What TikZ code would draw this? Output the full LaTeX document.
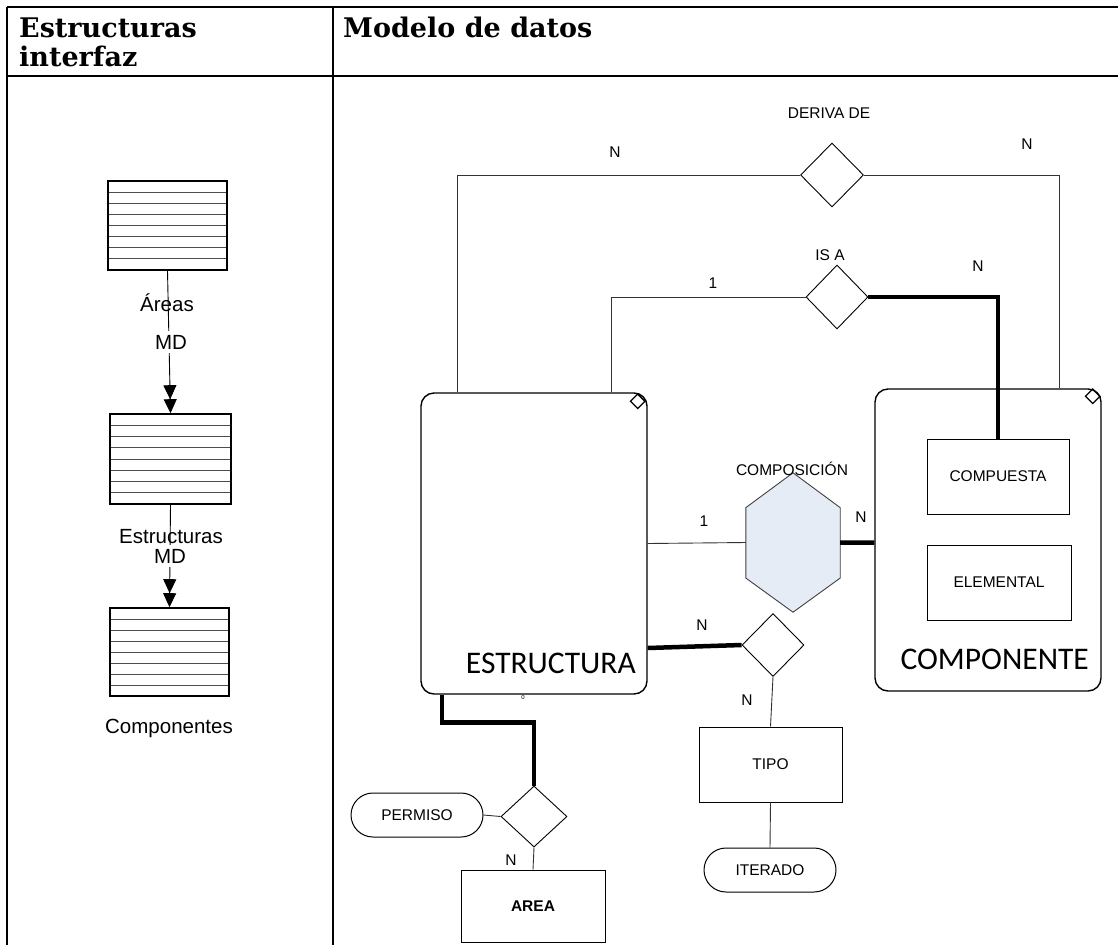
\documentclass[tikz,border=0pt]{standalone}
\usepackage{fontspec}
\setmainfont{Liberation Sans}
\newfontfamily\headfont{DejaVu Serif}
\newfontfamily\boxfont{Carlito}
\usetikzlibrary{shapes.geometric,arrows.meta,calc}
\definecolor{hexfill}{RGB}{230,236,246}

\begin{document}
\begin{tikzpicture}[x=1pt,y=-1pt,
  lbl/.style={font=\fontsize{15.5}{18}\selectfont, inner sep=0pt},
  sidelbl/.style={font=\fontsize{20.5}{24}\selectfont, inner sep=0pt},
  hdr/.style={font=\headfont\bfseries\fontsize{27}{32}\selectfont, inner sep=0pt, anchor=base west},
  grouplbl/.style={font=\boxfont\fontsize{31.5}{36}\selectfont, inner sep=0pt, anchor=base east},
  thinline/.style={draw=black!80, line width=0.9pt},
  heavyline/.style={draw=black, line width=4.5pt},
  ent/.style={draw=black, line width=1pt, rectangle, inner sep=0pt,
    font=\fontsize{15.5}{18}\selectfont},
  rel/.style={draw=black, line width=0.9pt, diamond, inner sep=0pt},
  attr/.style={draw=black, line width=1pt, rectangle, rounded corners=22pt,
    inner sep=0pt, minimum width=132pt, minimum height=44pt,
    font=\fontsize{15.5}{18}\selectfont},
  grp/.style={draw=black, line width=1.4pt, rectangle, rounded corners=13pt, inner sep=0pt},
  marker/.style={draw=black, line width=1.3pt, diamond, inner sep=0pt, minimum size=15pt},
  tableline/.style={draw=black, line width=2pt},
  striped/.style={draw=black, line width=1.6pt, rectangle, inner sep=0pt,
    path picture={
      \foreach \i in {1,...,7}{
        \draw[black!70, line width=1pt]
          ($(path picture bounding box.north west)!\i/8!(path picture bounding box.south west)$) --
          ($(path picture bounding box.north east)!\i/8!(path picture bounding box.south east)$);
      }}},
  dbl/.style={-{Triangle[width=13pt,length=14pt]Triangle[width=13pt,length=14pt]}, line width=0.9pt},
]
\useasboundingbox (0,0) rectangle (1118,945);

% ---------- table frame ----------
\coordinate (tl) at (7,7);
\coordinate (tr) at (1118,7);
\coordinate (hl) at (7,76);
\coordinate (hr) at (1118,76);
\coordinate (dtop) at (333,7);
\coordinate (dbot) at (333,945);
\coordinate (lbot) at (7,945);
\draw[tableline] (tl) -- (tr);
\draw[tableline] (hl) -- (hr);
\draw[tableline] (tl) -- (lbot);
\draw[tableline] (dtop) -- (dbot);

\node[hdr] (h1) at (19,37) {Estructuras};
\node[hdr] (h2) at (19,66) {interfaz};
\node[hdr] (h3) at (343,37) {Modelo de datos};

% ---------- interface structures ----------
\node[striped, minimum width=119pt, minimum height=89pt] (b1) at (167.5,225.5) {};
\node[striped, minimum width=121pt, minimum height=90pt] (b2) at (170.5,459) {};
\node[striped, minimum width=119pt, minimum height=88pt] (b3) at (169.5,652) {};

\draw[dbl] (b1.south) -- (b2.north);
\draw[dbl] (b2.south) -- (b3.north);

\node[sidelbl] (l1) at (167,303) {Áreas};
\node[sidelbl, fill=white, inner sep=4pt] (l2) at (171,342) {MD};
\node[sidelbl] (l3) at (171,537) {Estructuras};
\node[sidelbl, fill=white, inner sep=4pt] (l4) at (170,556) {MD};
\node[sidelbl] (l5) at (169,728) {Componentes};

% ---------- data model: groups ----------
\node[grp, minimum width=226pt, minimum height=301pt] (est) at (534,543.5) {};
\node[grp, minimum width=226pt, minimum height=302pt] (compo) at (988,540) {};
\node[marker] (estm) at ($(est.north east)+(-10,9)$) {};
\node[marker] (compom) at ($(compo.north east)+(-9,8)$) {};
\node[grouplbl] (estl) at (636,673) {ESTRUCTURA};
\node[grouplbl] (compol) at (1089,669) {COMPONENTE};
\node[inner sep=0pt, font=\fontsize{6}{7}\selectfont] (zero) at (523,697) {0};

% ---------- entities ----------
\node[ent, minimum width=142pt, minimum height=75pt] (cmp) at (998,476.5) {COMPUESTA};
\node[ent, minimum width=144pt, minimum height=75pt] (elem) at (999,582.5) {ELEMENTAL};
\node[ent, minimum width=143pt, minimum height=75pt] (tipo) at (770.5,764.5) {TIPO};
\node[ent, minimum width=144pt, minimum height=72pt, font=\bfseries\fontsize{15.5}{18}\selectfont] (area) at (533,906) {AREA};
\node[attr] (perm) at (417,815) {PERMISO};
\node[attr] (iter) at (770,870) {ITERADO};

% ---------- relationships ----------
\node[rel, minimum width=63pt, minimum height=64pt] (deriv) at (832,175) {};
\node[rel, minimum width=62pt, minimum height=64pt] (isa) at (837,297) {};
\node[rel, minimum width=62pt, minimum height=63pt] (trel) at (773,645) {};
\node[rel, minimum width=66pt, minimum height=61pt] (arel) at (534,816.5) {};
\node[inner sep=0pt, minimum width=94pt, minimum height=139pt] (hex) at (793,542.5) {};
\filldraw[fill=hexfill, draw=black!75, line width=0.9pt]
  (hex.north)
  -- ($(hex.north east)!0.25!(hex.south east)$)
  -- ($(hex.north east)!0.755!(hex.south east)$)
  -- (hex.south)
  -- ($(hex.north west)!0.755!(hex.south west)$)
  -- ($(hex.north west)!0.25!(hex.south west)$)
  -- cycle;

% ---------- connectors ----------
\draw[thinline] ($(est.north)+(-77,0)$) |- (deriv.west);
\draw[thinline] (deriv.east) -| ($(compo.north)+(71,0)$);
\draw[thinline] ($(est.north)+(77,0)$) |- (isa.west);
\draw[heavyline] (isa.east) -| (cmp.north);
\draw[thinline] (est.east) -- ($(hex.north west)!0.5!(hex.south west)$);
\draw[heavyline] ($(hex.north east)!0.5!(hex.south east)$) -- (compo.west |- hex.east);
\draw[heavyline] ($(est.east)+(0,104.5)$) -- (trel.west);
\draw[thinline] (trel.south) -- (tipo.north);
\draw[thinline] (tipo.south) -- (iter.north);
\draw[heavyline] ($(est.south)+(-92,0)$) -- ++(0,28) -| (arel.north);
\draw[thinline] (arel.west) -- (perm.east);
\draw[thinline] (arel.south) -- (area.north);

% ---------- labels ----------
\node[lbl] (tderiv) at (829,113) {DERIVA DE};
\node[lbl] (tisa) at (830,255) {IS A};
\node[lbl] (tcomp) at (792,469) {COMPOSICIÓN};
\node[lbl] (n1) at (615,152) {N};
\node[lbl] (n2) at (1027,144) {N};
\node[lbl] (o1) at (713,283) {1};
\node[lbl] (n3) at (978,266) {N};
\node[lbl] (o2) at (704,521) {1};
\node[lbl] (n4) at (861,517) {N};
\node[lbl] (n5) at (702,625) {N};
\node[lbl] (n6) at (747,700) {N};
\node[lbl] (n7) at (511,860) {N};
\end{tikzpicture}
\end{document}
